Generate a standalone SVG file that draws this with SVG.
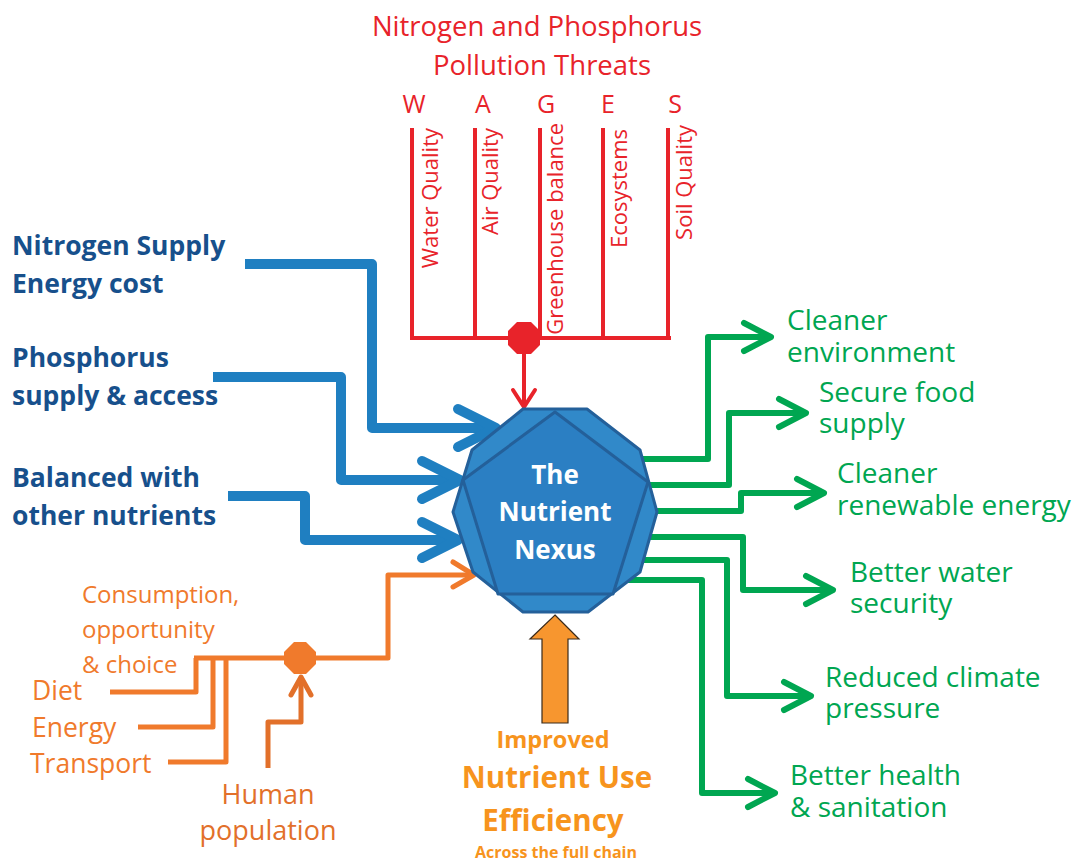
<svg xmlns="http://www.w3.org/2000/svg" width="1073" height="863" viewBox="0 0 1073 863">
<style>
text{font-family:"Open Sans","Liberation Sans",sans-serif}
.red{fill:#e8232a}
.blue{fill:#17508c;font-weight:bold;font-size:26.5px}
.org{fill:#f07a2c}
.grn{fill:#00a651;font-size:28px}
.rl{stroke:#e8232a;stroke-width:4;fill:none}
.bl{stroke:#1f7fc1;stroke-width:10;fill:none;stroke-linejoin:round}
.bh{stroke:#1f7fc1;stroke-width:10;fill:none;stroke-linecap:round;stroke-linejoin:round}
.ol{stroke:#f07a2c;stroke-width:5;fill:none;stroke-linejoin:round}
.oh{stroke:#f07a2c;stroke-width:5;fill:none;stroke-linecap:round;stroke-linejoin:round}
.gl{stroke:#00a651;stroke-width:6;fill:none;stroke-linejoin:round}
.gh{stroke:#00a651;stroke-width:6;fill:none;stroke-linecap:round;stroke-linejoin:round}
</style>
<g id="connectors">
  <!-- red pollution tree -->
  <path class="rl" d="M412,128 V338 M475,128 V338 M540,128 V338 M603,128 V338 M668,128 V338 M410,338 H671"/>
  <path class="rl" d="M524,350 V406"/>
  <polyline class="rl" points="513,390 524,407 535,390" stroke-linecap="round"/>
  <polygon fill="#e8232a" points="517,322 531,322 540,331 540,345 531,354 517,354 508,345 508,331"/>
  <!-- blue inputs -->
  <path class="bl" d="M245,264 H372 V428 H494"/>
  <polyline class="bh" points="458,409 496,428 458,447"/>
  <path class="bl" d="M213,377 H341 V480 H460"/>
  <polyline class="bh" points="422,461 460,480 422,499"/>
  <path class="bl" d="M228,496 H305 V540 H458"/>
  <polyline class="bh" points="422,522 458,540 422,558"/>
  <!-- orange inputs -->
  <path class="ol" d="M110,692 H196 V658 M138,727 H213 V658 M168,762 H226 V658 M194,658 H388 V575 H474"/>
  <polyline class="oh" points="453,562 474,575 453,587"/>
  <polygon fill="#f07a2c" points="294,642 306,642 316,652 316,664 306,674 294,674 284,664 284,652"/>
  <path d="M268,768 V722 H301 V679" stroke="#e2702a" stroke-width="5" fill="none" stroke-linejoin="round"/>
  <polyline points="291,695 301,677 311,695" stroke="#e2702a" stroke-width="5" fill="none" stroke-linecap="round" stroke-linejoin="round"/>
  <!-- green outputs -->
  <path class="gl" d="M620,459 H708 V337 H768"/>
  <polyline class="gh" points="744,323 771,337 744,351"/>
  <path class="gl" d="M620,485 H729 V413 H804"/>
  <polyline class="gh" points="779,399 806,413 779,427"/>
  <path class="gl" d="M620,511 H741 V493 H821"/>
  <polyline class="gh" points="797,479 824,493 797,507"/>
  <path class="gl" d="M620,537 H743 V590 H831"/>
  <polyline class="gh" points="806,576 833,590 806,604"/>
  <path class="gl" d="M620,560 H727 V696 H809"/>
  <polyline class="gh" points="784,682 811,696 784,710"/>
  <path class="gl" d="M620,580 H702 V793 H773"/>
  <polyline class="gh" points="748,779 775,793 748,807"/>
  <!-- orange efficiency arrow -->
  <polygon points="555,615 579,639 568,639 568,723 542,723 542,639 530,639" fill="#f7962f" stroke="#3a2a1a" stroke-width="1.2"/>
</g>
<g id="title">
  <text class="red" x="537" y="36" font-size="27.5" text-anchor="middle">Nitrogen and Phosphorus</text>
  <text class="red" x="542" y="75" font-size="27.5" text-anchor="middle">Pollution Threats</text>
  <g class="red" font-size="25" text-anchor="middle">
    <text x="414" y="113">W</text>
    <text x="483" y="113">A</text>
    <text x="546" y="113">G</text>
    <text x="608" y="113">E</text>
    <text x="675" y="113">S</text>
  </g>
  <g class="red" font-size="22" text-anchor="end">
    <text transform="translate(438,128) rotate(-90)">Water Quality</text>
    <text transform="translate(498,128) rotate(-90)">Air Quality</text>
    <text transform="translate(563,123) rotate(-90)">Greenhouse balance</text>
    <text transform="translate(627,129) rotate(-90)">Ecosystems</text>
    <text transform="translate(692,125) rotate(-90)">Soil Quality</text>
  </g>
</g>
<g id="inputs-blue">
  <text class="blue" x="12" y="255">Nitrogen Supply</text>
  <text class="blue" x="12" y="293">Energy cost</text>
  <text class="blue" x="12" y="367">Phosphorus</text>
  <text class="blue" x="12" y="405">supply &amp; access</text>
  <text class="blue" x="12" y="487">Balanced with</text>
  <text class="blue" x="12" y="525">other nutrients</text>
</g>
<g id="inputs-orange">
  <text class="org" x="82" y="603" font-size="24">Consumption,</text>
  <text class="org" x="82" y="638" font-size="24">opportunity</text>
  <text class="org" x="82" y="673" font-size="24">&amp; choice</text>
  <text class="org" x="32" y="700" font-size="26.5">Diet</text>
  <text class="org" x="32" y="737" font-size="26.5">Energy</text>
  <text class="org" x="30" y="773" font-size="26.5">Transport</text>
  <text x="268" y="804" font-size="27" fill="#e2702a" text-anchor="middle">Human</text>
  <text x="268" y="840" font-size="27" fill="#e2702a" text-anchor="middle">population</text>
</g>
<g id="nexus">
  <polygon points="523,409 587,409 640,450 657,512 640,572 588,612 523,612 473,572 453,512 472,450" fill="#3189c9" stroke="#24609a" stroke-width="3" stroke-linejoin="round"/>
  <polygon points="555,412 648,482 613,594 498,594 463,480" fill="#2b7fc3" stroke="#24609a" stroke-width="3" stroke-linejoin="round"/>
  <g fill="#ffffff" font-weight="bold" font-size="26" text-anchor="middle">
    <text x="555" y="484">The</text>
    <text x="555" y="521">Nutrient</text>
    <text x="555" y="559">Nexus</text>
  </g>
</g>
<g id="efficiency" fill="#f7941d" font-weight="bold" text-anchor="middle">
  <text x="553" y="748" font-size="23.5">Improved</text>
  <text x="557" y="788" font-size="29.5">Nutrient Use</text>
  <text x="553" y="831" font-size="29.5">Efficiency</text>
  <text x="556" y="858" font-size="16">Across the full chain</text>
</g>
<g id="outputs">
  <text class="grn" x="787" y="330">Cleaner</text>
  <text class="grn" x="787" y="362">environment</text>
  <text class="grn" x="819" y="402">Secure food</text>
  <text class="grn" x="819" y="433">supply</text>
  <text class="grn" x="837" y="483">Cleaner</text>
  <text class="grn" x="837" y="515">renewable energy</text>
  <text class="grn" x="850" y="582">Better water</text>
  <text class="grn" x="850" y="613">security</text>
  <text class="grn" x="825" y="687">Reduced climate</text>
  <text class="grn" x="825" y="718">pressure</text>
  <text class="grn" x="790" y="785">Better health</text>
  <text class="grn" x="790" y="817">&amp; sanitation</text>
</g>
</svg>
